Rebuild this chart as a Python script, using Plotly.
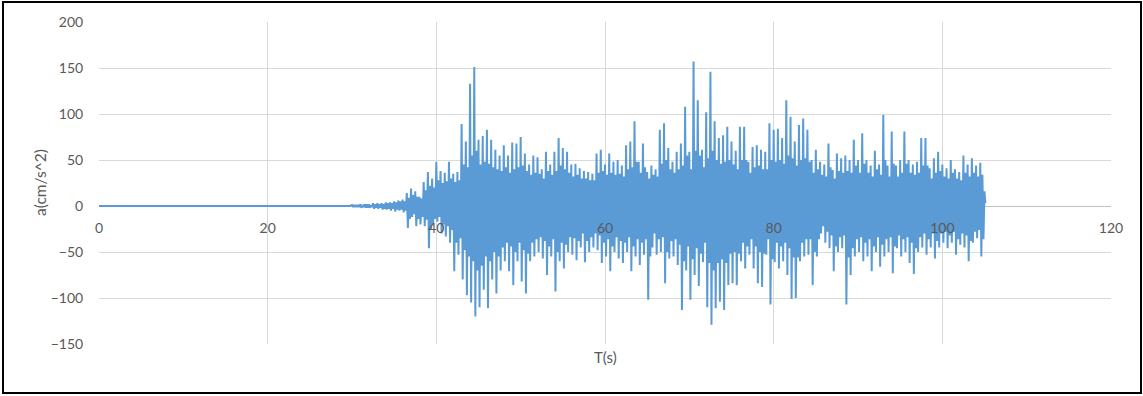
import plotly.graph_objects as go

# ---- data ----
quiet_t = [0.0, 29.75]
quiet_a = [0.0, 0.0]

# the record is written as 0.5 s bins; per bin: outer positive peak, outer negative peak,
# and the extent of the dense core of oscillation (core_hi / core_lo)
bin_start = 30.0
bin_width = 0.5

peak_hi = [
    1, 1, 2, 2, 2, 3, 3, 3, 4, 4,            # 30.0 - 34.5
    5, 6, 7, 14, 19, 16, 10, 26, 37, 30,     # 35.0 - 39.5
    48, 38, 36, 48, 35, 37, 89, 70, 133, 151,  # 40.0 - 44.5
    72, 76, 83, 72, 61, 55, 66, 55, 69, 68,  # 45.0 - 49.5
    75, 57, 45, 55, 53, 40, 59, 45, 59, 74,  # 50.0 - 54.5
    63, 59, 45, 46, 41, 38, 37, 35, 57, 61,  # 55.0 - 59.5
    45, 57, 48, 50, 44, 66, 70, 92, 48, 68,  # 60.0 - 64.5
    37, 44, 40, 83, 90, 63, 48, 59, 68, 108,  # 65.0 - 69.5
    59, 157, 115, 61, 102, 146, 92, 74, 77, 86,  # 70.0 - 74.5
    70, 60, 86, 86, 48, 64, 66, 61, 59, 90,  # 75.0 - 79.5
    83, 84, 74, 115, 97, 70, 88, 95, 83, 50,  # 80.0 - 84.5
    61, 48, 45, 68, 39, 57, 52, 55, 50, 72,  # 85.0 - 89.5
    50, 79, 50, 44, 60, 45, 99, 44, 81, 44,  # 90.0 - 94.5
    50, 81, 50, 45, 48, 74, 74, 41, 52, 59,  # 95.0 - 99.5
    45, 41, 50, 40, 37, 55, 45, 52, 44, 47,  # 100.0 - 104.5
]
peak_lo = [
    -1, -1, -2, -2, -2, -3, -3, -4, -4, -5,
    -6, -5, -7, -24, -12, -22, -20, -22, -46, -20,
    -17, -30, -33, -40, -71, -53, -80, -97, -105, -120,
    -110, -91, -111, -80, -95, -70, -60, -71, -86, -60,
    -82, -95, -60, -55, -50, -57, -75, -55, -93, -60,
    -68, -50, -53, -59, -45, -61, -50, -45, -48, -62,
    -55, -71, -50, -57, -62, -50, -71, -55, -64, -53,
    -102, -45, -53, -50, -84, -57, -55, -64, -113, -70,
    -102, -75, -87, -61, -110, -129, -111, -104, -113, -86,
    -84, -86, -60, -68, -53, -68, -84, -88, -53, -107,
    -61, -68, -60, -75, -101, -100, -60, -55, -53, -86,
    -55, -30, -40, -46, -71, -50, -46, -107, -75, -55,
    -50, -60, -55, -71, -50, -66, -55, -50, -73, -46,
    -55, -50, -62, -74, -50, -45, -53, -45, -57, -45,
    -40, -46, -40, -53, -42, -45, -60, -40, -35, -55,
]
core_hi = [
    1, 1, 1, 2, 1, 2, 2, 2, 3, 3,
    4, 5, 5, 9, 12, 10, 8, 17, 22, 20,
    28, 25, 27, 30, 26, 28, 45, 42, 55, 60,
    45, 48, 46, 42, 40, 38, 42, 36, 40, 42,
    44, 38, 34, 36, 35, 30, 38, 34, 38, 44,
    40, 36, 32, 34, 30, 30, 28, 28, 36, 38,
    34, 36, 34, 35, 32, 40, 42, 48, 36, 42,
    30, 34, 32, 46, 50, 40, 36, 40, 44, 55,
    40, 60, 55, 42, 52, 60, 50, 46, 48, 50,
    45, 40, 50, 50, 36, 42, 44, 40, 40, 50,
    48, 50, 46, 55, 52, 44, 50, 52, 48, 36,
    40, 34, 32, 42, 30, 38, 36, 38, 36, 44,
    36, 46, 36, 32, 40, 34, 50, 32, 46, 32,
    36, 46, 36, 34, 36, 44, 44, 30, 36, 38,
    32, 30, 36, 30, 28, 36, 32, 36, 32, 34,
]
core_lo = [
    -1, -1, -1, -2, -1, -2, -2, -3, -3, -3,
    -4, -4, -5, -14, -9, -14, -12, -15, -25, -14,
    -12, -20, -22, -26, -40, -35, -48, -55, -60, -70,
    -65, -55, -60, -50, -55, -45, -40, -44, -50, -40,
    -48, -52, -40, -36, -34, -38, -44, -36, -50, -40,
    -42, -34, -35, -38, -30, -38, -34, -30, -32, -40,
    -36, -44, -34, -38, -40, -34, -44, -36, -40, -36,
    -55, -30, -36, -34, -50, -38, -36, -42, -60, -44,
    -58, -46, -52, -40, -62, -70, -62, -58, -62, -52,
    -50, -52, -40, -44, -36, -44, -50, -52, -36, -58,
    -40, -44, -40, -46, -56, -56, -40, -36, -36, -50,
    -36, -22, -28, -32, -44, -34, -32, -56, -46, -36,
    -34, -40, -36, -44, -34, -42, -36, -34, -44, -32,
    -36, -34, -40, -46, -34, -30, -36, -30, -38, -30,
    -28, -32, -28, -36, -30, -32, -38, -28, -26, -36,
]
tail_t = [105.0, 105.1]
tail_a = [16, 3]

x_ticks = [0, 20, 40, 60, 80, 100, 120]
y_ticks = [-150, -100, -50, 0, 50, 100, 150, 200]

# ---- assemble series ----
t = list(quiet_t)
a = list(quiet_a)
for i in range(len(peak_hi)):
    t0 = bin_start + bin_width * i
    for k, v in enumerate((peak_hi[i], peak_lo[i], core_hi[i], core_lo[i])):
        t.append(t0 + bin_width * k / 4)
        a.append(v)
t += tail_t
a += tail_a

GRID = "#d9d9d9"
TXT = "#595959"
FONT = "Lato, Open Sans, sans-serif"

fig = go.Figure()
fig.add_trace(go.Scatter(
    x=t, y=a, mode="lines",
    line=dict(color="#5b9bd5", width=2, simplify=False),
    hoverinfo="skip", showlegend=False,
))

W, H = 1143, 396
ml, mr, mt, mb = 99, 32, 22, 52
pw, ph = W - ml - mr, H - mt - mb

fig.update_layout(
    width=W, height=H,
    margin=dict(l=ml, r=mr, t=mt, b=mb),
    paper_bgcolor="white", plot_bgcolor="white",
    font=dict(family=FONT, color=TXT, size=14),
    xaxis=dict(
        range=[0, 120], tickvals=x_ticks, showgrid=True, gridcolor=GRID, gridwidth=1,
        zeroline=False, showline=False,
        anchor="free", position=150 / 350,
        ticks="outside", ticklen=9, tickcolor="rgba(0,0,0,0)",
        tickfont=dict(size=14, color=TXT, family=FONT),
    ),
    yaxis=dict(
        range=[-150, 200], tickvals=y_ticks, showgrid=True, gridcolor=GRID, gridwidth=1,
        zeroline=True, zerolinecolor="#bfbfbf", zerolinewidth=1.3, showline=False,
        ticks="outside", ticklen=12, tickcolor="rgba(0,0,0,0)",
        tickfont=dict(size=14, color=TXT, family=FONT),
    ),
    shapes=[dict(
        type="rect", xref="paper", yref="paper",
        x0=(3 - ml) / pw, x1=(1141 - ml) / pw,
        y0=(mt + ph - 393) / ph, y1=(mt + ph - 2) / ph,
        line=dict(color="black", width=2), fillcolor="rgba(0,0,0,0)", layer="above",
    )],
    annotations=[
        dict(text="T(s)", xref="paper", yref="paper", x=0.5, y=(mt + ph - 357) / ph,
             showarrow=False, font=dict(size=15, color=TXT, family=FONT),
             xanchor="center", yanchor="middle"),
        dict(text="a(cm/s^2)", xref="paper", yref="paper", x=(40 - ml) / pw, y=0.5,
             textangle=-90, showarrow=False, font=dict(size=15.5, color=TXT, family=FONT),
             xanchor="center", yanchor="middle"),
    ],
)

fig.write_html(
    "out.html",
    config={"displayModeBar": False},
    post_script="document.body.style.margin='0';document.body.style.overflow='hidden';",
)
